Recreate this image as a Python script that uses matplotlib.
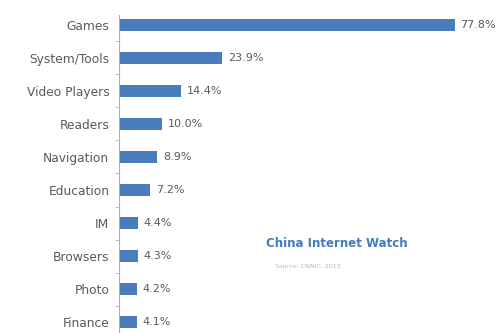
import numpy as np
import matplotlib.pyplot as plt
from matplotlib.ticker import FixedLocator

categories = ['Games', 'System/Tools', 'Video Players', 'Readers', 'Navigation',
              'Education', 'IM', 'Browsers', 'Photo', 'Finance']
shares = [77.8, 23.9, 14.4, 10.0, 8.9, 7.2, 4.4, 4.3, 4.2, 4.1]

bar_color = '#4a7cbd'
text_color = '#5a5a5a'

fig = plt.figure(figsize=(5.02, 3.33), dpi=100)
ax = fig.add_axes([0.237, 0.0, 0.757, 0.955])

y = np.arange(len(categories))
ax.barh(y, shares, height=0.38, color=bar_color)

# percentage labels just past the bar ends
for yi, v in zip(y, shares):
    ax.text(v + 1.3, yi, f'{v:.1f}%', va='center', ha='left',
            fontsize=8, color=text_color)

ax.set_xlim(0, 88)
ax.set_ylim(9.33, -0.30)
ax.set_yticks(y)
ax.set_yticklabels(categories, fontsize=8.8, color=text_color)
ax.tick_params(axis='y', which='major', length=0, pad=7)
ax.yaxis.set_minor_locator(FixedLocator(np.arange(0.5, len(categories) - 1, 1)))
ax.tick_params(axis='y', which='minor', length=3, color='#b0b0b0', direction='out')
ax.set_xticks([])

for side in ['top', 'right', 'bottom']:
    ax.spines[side].set_visible(False)
ax.spines['left'].set_color('#b0b0b0')
ax.spines['left'].set_linewidth(0.8)

fig.text(0.53, 0.268, 'China Internet Watch', fontsize=8.5, fontweight='bold',
         color='#3f7cc4', ha='left', va='center')
fig.text(0.548, 0.20, 'Source: CNNIC, 2013', fontsize=4.5,
         color='#b8b8b8', ha='left', va='center')

fig.savefig('out.png', dpi=100)
